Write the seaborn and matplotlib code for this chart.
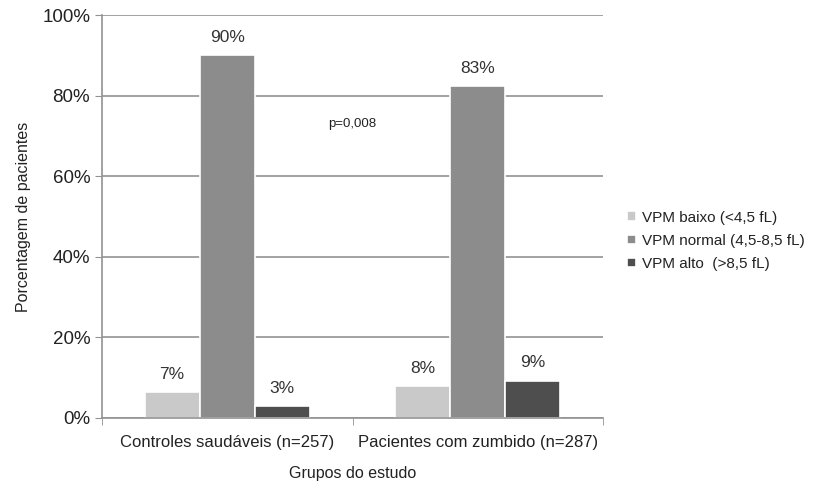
import pandas as pd
import seaborn as sns
import matplotlib.pyplot as plt
from matplotlib.ticker import FixedLocator, PercentFormatter

# data
groups = ["Controles saudáveis (n=257)", "Pacientes com zumbido (n=287)"]
levels = ["VPM baixo (<4,5 fL)", "VPM normal (4,5-8,5 fL)", "VPM alto  (>8,5 fL)"]
controles = [6.4, 90.1, 2.9]
pacientes = [7.9, 82.5, 9.3]
bar_labels = [["7%", "90%", "3%"], ["8%", "83%", "9%"]]
colors = ["#c9c9c9", "#8c8c8c", "#4e4e4e"]

rows = []
for g, vals in zip(groups, [controles, pacientes]):
    for lev, v in zip(levels, vals):
        rows.append({"grupo": g, "nivel": lev, "pct": v})
df = pd.DataFrame(rows)

sns.set_style("white")
plt.rcParams["font.family"] = ["Liberation Sans", "DejaVu Sans"]

fig = plt.figure(figsize=(8.16, 4.9), dpi=100)
ax = fig.add_axes([0.125, 0.147, 0.614, 0.822])

sns.barplot(data=df, x="grupo", y="pct", hue="nivel", palette=colors,
            width=0.66, edgecolor="white", linewidth=1.2, ax=ax, legend=True)

# value labels above bars
for i, cont in enumerate(ax.containers):
    for j, bar in enumerate(cont):
        ax.text(bar.get_x() + bar.get_width() / 2, bar.get_height() + 2.5,
                bar_labels[j][i], ha="center", va="bottom", fontsize=12.5, color="#333333")

ax.set_ylim(0, 100)
ax.set_xlim(-0.5, 1.5)
ax.yaxis.set_major_locator(FixedLocator([0, 20, 40, 60, 80, 100]))
ax.yaxis.set_major_formatter(PercentFormatter(decimals=0))
ax.yaxis.grid(True, color="#929292", linewidth=1.2)
ax.set_axisbelow(True)

ax.xaxis.set_minor_locator(FixedLocator([-0.5, 0.5, 1.5]))
ax.tick_params(axis="x", which="major", length=0, pad=12, labelsize=12, labelcolor="#222222")
ax.tick_params(axis="x", which="minor", length=5, color="#929292", direction="out", bottom=True)
ax.tick_params(axis="y", length=5, color="#929292", direction="out", left=True,
               labelsize=13.5, labelcolor="#222222")

for s in ["top", "right"]:
    ax.spines[s].set_visible(False)
for s in ["left", "bottom"]:
    ax.spines[s].set_color("#929292")
    ax.spines[s].set_linewidth(1.2)

ax.set_xlabel("Grupos do estudo", fontsize=11.5, color="#222222", labelpad=12)
ax.set_ylabel("Porcentagem de pacientes", fontsize=11.5, color="#222222", labelpad=8)

ax.text(0.5, 73, "p=0,008", ha="center", va="center", fontsize=9.5, color="#222222")

ax.legend(loc="center left", bbox_to_anchor=(1.02, 0.44), frameon=False, fontsize=11,
          handlelength=0.6, handleheight=0.6, handletextpad=0.4, labelspacing=0.6,
          labelcolor="#222222")

fig.savefig("out.png", dpi=100)
